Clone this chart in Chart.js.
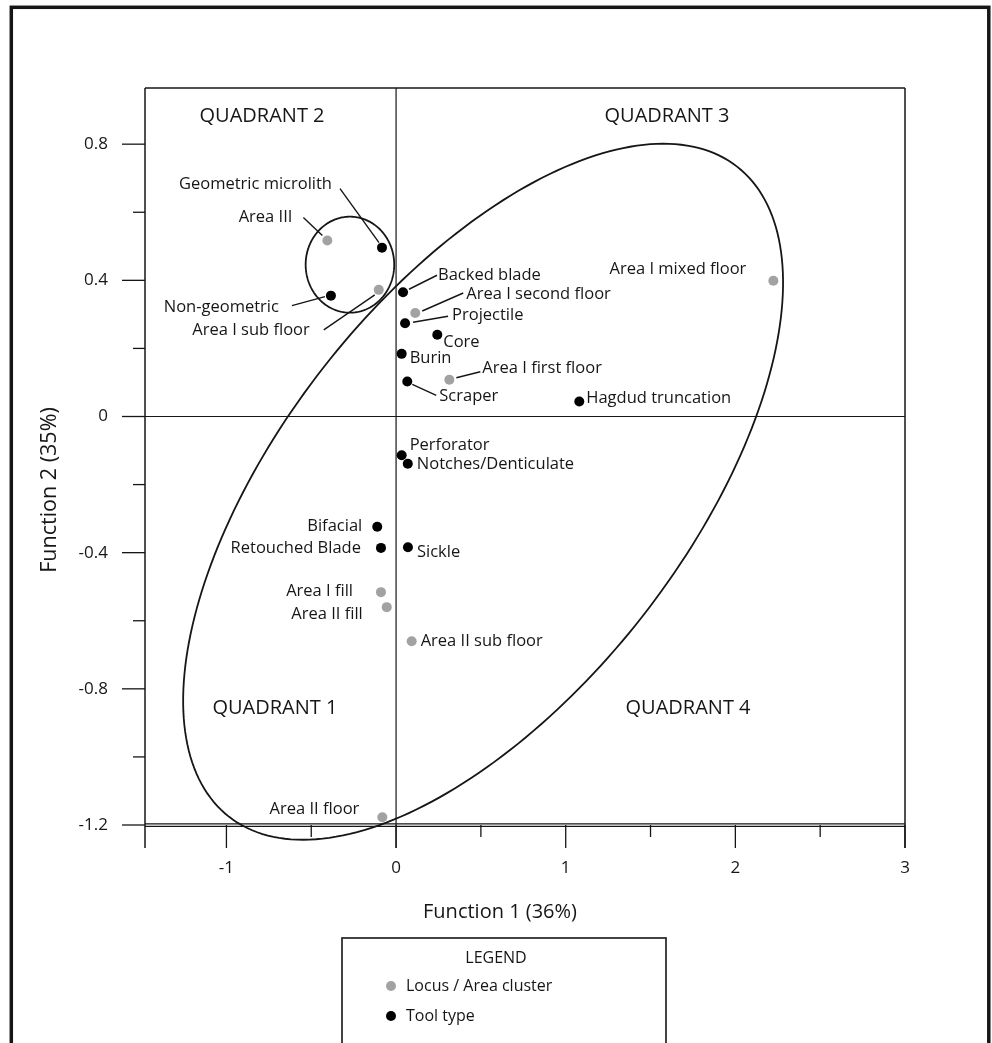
<!DOCTYPE html>
<html>
<head>
<meta charset="utf-8">
<script src="https://cdn.jsdelivr.net/npm/chart.js@4.4.0/dist/chart.umd.min.js"></script>
<style>
  html, body { margin: 0; padding: 0; background: #fff; }
  #wrap { position: relative; width: 992px; height: 1043px; overflow: hidden; }
</style>
</head>
<body>
<div id="wrap"><canvas id="dfa" width="992" height="1043"></canvas></div>
<script>
// locus / area clusters (grey)
const locusNames = ["Area III", "Area I sub floor", "Area I second floor", "Area I first floor",
  "Area I mixed floor", "Area I fill", "Area II fill", "Area II sub floor", "Area II floor"];
const locusF1 = [-0.405, -0.102, 0.113, 0.314, 2.224, -0.089, -0.055, 0.092, -0.081];
const locusF2 = [0.517, 0.372, 0.304, 0.108, 0.399, -0.516, -0.560, -0.660, -1.177];

// tool types (black)
const toolNames = ["Geometric microlith", "Non-geometric", "Backed blade", "Projectile", "Core",
  "Burin", "Scraper", "Hagdud truncation", "Perforator", "Notches/Denticulate", "Bifacial",
  "Retouched Blade", "Sickle"];
const toolF1 = [-0.083, -0.384, 0.041, 0.053, 0.243, 0.033, 0.066, 1.080, 0.033, 0.069, -0.111, -0.089, 0.070];
const toolF2 = [0.496, 0.355, 0.365, 0.274, 0.240, 0.184, 0.103, 0.044, -0.114, -0.139, -0.324, -0.386, -0.384];

const xTickValues = [-1, 0, 1, 2, 3];
const yTickValues = [-1.2, -0.8, -0.4, 0, 0.4, 0.8];

const quadrantNames = ["QUADRANT 1", "QUADRANT 2", "QUADRANT 3", "QUADRANT 4"];
const quadrantAt = [[-0.714, -0.858], [-0.79, 0.883], [1.597, 0.883], [1.721, -0.858]];

// grouping shapes, in data units: centre plus two conjugate half-axes
const bigEllipse = { cx: 0.513, cy: -0.221, ux: 1.497, uy: 0.955, vx: 0.941, vy: -0.365 };
const smallEllipse = { cx: -0.272, cy: 0.446, ux: 0.261, uy: 0, vx: 0, vy: 0.141 };

// where each point label sits, in px relative to its dot
const labelPlacement = {
  "Area III": { dx: -35, dy: -23, align: "right", line: [-24, -23, -5, -5] },
  "Area I sub floor": { dx: -69, dy: 40, align: "right", line: [-55, 40, -4, 5] },
  "Area I second floor": { dx: 51, dy: -19, align: "left", line: [7, -2, 48, -20] },
  "Area I first floor": { dx: 33, dy: -11, align: "left", line: [7, -2, 31, -8] },
  "Area I mixed floor": { dx: -27, dy: -11, align: "right" },
  "Area I fill": { dx: -28, dy: -1, align: "right" },
  "Area II fill": { dx: -24, dy: 7, align: "right" },
  "Area II sub floor": { dx: 9, dy: 0, align: "left" },
  "Area II floor": { dx: -23, dy: -8, align: "right" },
  "Geometric microlith": { dx: -50, dy: -63, align: "right", line: [-42, -59, -3, -5] },
  "Non-geometric": { dx: -52, dy: 12, align: "right", line: [-39, 10, -6, 1] },
  "Backed blade": { dx: 35, dy: -17, align: "left", line: [6, -3, 34, -17] },
  "Projectile": { dx: 47, dy: -8, align: "left", line: [8, -1, 43, -7] },
  "Core": { dx: 6, dy: 7, align: "left" },
  "Burin": { dx: 8, dy: 4, align: "left" },
  "Scraper": { dx: 32, dy: 15, align: "left", line: [5, 3, 29, 14] },
  "Hagdud truncation": { dx: 7, dy: -3, align: "left" },
  "Perforator": { dx: 8, dy: -10, align: "left" },
  "Notches/Denticulate": { dx: 9, dy: 0, align: "left" },
  "Bifacial": { dx: -15, dy: 0, align: "right" },
  "Retouched Blade": { dx: -20, dy: 0, align: "right" },
  "Sickle": { dx: 9, dy: 5, align: "left" }
};

const FONT = "'Open Sans', sans-serif";
const INK = "#161616";

function ellipsePath(ctx, x, y, e) {
  ctx.beginPath();
  for (let i = 0; i <= 240; i++) {
    const t = (i / 240) * Math.PI * 2;
    const px = x.getPixelForValue(e.cx + e.ux * Math.cos(t) + e.vx * Math.sin(t));
    const py = y.getPixelForValue(e.cy + e.uy * Math.cos(t) + e.vy * Math.sin(t));
    if (i === 0) ctx.moveTo(px, py); else ctx.lineTo(px, py);
  }
  ctx.closePath();
}

function line(ctx, x1, y1, x2, y2) {
  ctx.beginPath();
  ctx.moveTo(x1, y1);
  ctx.lineTo(x2, y2);
  ctx.stroke();
}

const figure = {
  id: "figure",
  beforeDatasetsDraw(chart) {
    const { ctx, chartArea: a, scales: { x, y } } = chart;
    const drop = 23;
    ctx.save();
    ctx.strokeStyle = INK;

    // outer frame
    ctx.lineWidth = 3.5;
    ctx.strokeRect(11.3, 7.3, 977.5, 1100);

    // plot box
    ctx.lineWidth = 1.5;
    line(ctx, a.left, a.top, a.right, a.top);
    line(ctx, a.left, a.top, a.left, a.bottom + drop);
    line(ctx, a.right, a.top, a.right, a.bottom + drop);
    ctx.lineWidth = 1.3;
    line(ctx, a.left, a.bottom - 1.2, a.right, a.bottom - 1.2);
    line(ctx, a.left, a.bottom + 1.3, a.right, a.bottom + 1.3);

    // quadrant dividers
    ctx.lineWidth = 1.2;
    const x0 = x.getPixelForValue(0), y0 = y.getPixelForValue(0);
    line(ctx, x0, a.top, x0, a.bottom + drop);
    line(ctx, a.left, y0, a.right, y0);

    // ticks
    ctx.lineWidth = 1.3;
    xTickValues.forEach((v, i) => {
      const px = x.getPixelForValue(v);
      line(ctx, px, a.bottom, px, a.bottom + drop);
      if (i > 0) {
        const m = x.getPixelForValue((v + xTickValues[i - 1]) / 2);
        line(ctx, m, a.bottom, m, a.bottom + 12);
      }
    });
    yTickValues.forEach((v, i) => {
      const py = y.getPixelForValue(v);
      line(ctx, a.left - drop, py, a.left, py);
      if (i > 0) {
        const m = y.getPixelForValue((v + yTickValues[i - 1]) / 2);
        line(ctx, a.left - 12, m, a.left, m);
      }
    });

    // grouping ellipses
    ctx.lineWidth = 1.8;
    ellipsePath(ctx, x, y, bigEllipse);
    ctx.stroke();
    ellipsePath(ctx, x, y, smallEllipse);
    ctx.stroke();

    // leader lines
    ctx.lineWidth = 1.4;
    const leaders = (names, f1, f2) => names.forEach((n, i) => {
      const p = labelPlacement[n];
      if (!p || !p.line) return;
      const px = x.getPixelForValue(f1[i]), py = y.getPixelForValue(f2[i]);
      line(ctx, px + p.line[0], py + p.line[1], px + p.line[2], py + p.line[3]);
    });
    leaders(locusNames, locusF1, locusF2);
    leaders(toolNames, toolF1, toolF2);
    ctx.restore();
  },
  afterDatasetsDraw(chart) {
    const { ctx, chartArea: a, scales: { x, y } } = chart;
    ctx.save();
    ctx.fillStyle = INK;
    ctx.textBaseline = "middle";

    // point labels
    ctx.font = "16.5px " + FONT;
    const labels = (names, f1, f2) => names.forEach((n, i) => {
      const p = labelPlacement[n];
      const px = x.getPixelForValue(f1[i]), py = y.getPixelForValue(f2[i]);
      ctx.textAlign = p.align;
      ctx.fillText(n, px + p.dx, py + p.dy);
    });
    labels(locusNames, locusF1, locusF2);
    labels(toolNames, toolF1, toolF2);

    // quadrant names
    ctx.font = "20px " + FONT;
    ctx.textAlign = "center";
    quadrantNames.forEach((q, i) => {
      ctx.fillText(q, x.getPixelForValue(quadrantAt[i][0]), y.getPixelForValue(quadrantAt[i][1]));
    });

    // axis titles
    ctx.font = "20px " + FONT;
    ctx.fillText("Function 1 (36%)", 500, a.bottom + 87);
    ctx.save();
    ctx.translate(50, 490);
    ctx.rotate(-Math.PI / 2);
    ctx.font = "21.5px " + FONT;
    ctx.fillText("Function 2 (35%)", 0, 0);
    ctx.restore();

    // legend box
    ctx.strokeStyle = INK;
    ctx.lineWidth = 1.6;
    ctx.strokeRect(342, 938, 324, 200);
    ctx.font = "16px " + FONT;
    ctx.textAlign = "center";
    ctx.fillText("LEGEND", 496, 958);
    ctx.textAlign = "left";
    chart.data.datasets.forEach((ds, i) => {
      const ly = 986 + i * 30;
      ctx.fillStyle = ds.backgroundColor;
      ctx.beginPath();
      ctx.arc(391, ly, 5, 0, Math.PI * 2);
      ctx.fill();
      ctx.fillStyle = INK;
      ctx.fillText(ds.label, 406, ly);
    });
    ctx.restore();
  }
};

const toPoints = (f1, f2) => f1.map((v, i) => ({ x: v, y: f2[i] }));

new Chart(document.getElementById("dfa"), {
  type: "scatter",
  data: {
    datasets: [
      {
        label: "Locus / Area cluster",
        data: toPoints(locusF1, locusF2),
        backgroundColor: "#a2a2a2",
        borderWidth: 0,
        pointRadius: 5,
        pointHoverRadius: 5
      },
      {
        label: "Tool type",
        data: toPoints(toolF1, toolF2),
        backgroundColor: "#000000",
        borderWidth: 0,
        pointRadius: 5,
        pointHoverRadius: 5
      }
    ]
  },
  options: {
    responsive: false,
    animation: false,
    devicePixelRatio: 1,
    events: [],
    layout: { padding: { top: 88, right: 87, left: 0, bottom: 0 } },
    plugins: { legend: { display: false }, tooltip: { enabled: false } },
    scales: {
      x: {
        type: "linear",
        min: -1.48,
        max: 3,
        grid: { display: false, drawTicks: false },
        border: { display: false },
        afterBuildTicks: (s) => { s.ticks = xTickValues.map((v) => ({ value: v })); },
        afterFit: (s) => { s.height = 218; },
        ticks: {
          padding: 33,
          autoSkip: false,
          maxRotation: 0,
          color: INK,
          font: { family: FONT, size: 17 },
          callback: (v) => String(v)
        }
      },
      y: {
        type: "linear",
        min: -1.2,
        max: 0.965,
        grid: { display: false, drawTicks: false },
        border: { display: false },
        afterBuildTicks: (s) => { s.ticks = yTickValues.map((v) => ({ value: v })); },
        afterFit: (s) => { s.width = 145; },
        ticks: {
          padding: 37,
          autoSkip: false,
          color: INK,
          font: { family: FONT, size: 17 },
          callback: (v) => String(Math.round(v * 10) / 10)
        }
      }
    }
  },
  plugins: [figure]
});
</script>
</body>
</html>
